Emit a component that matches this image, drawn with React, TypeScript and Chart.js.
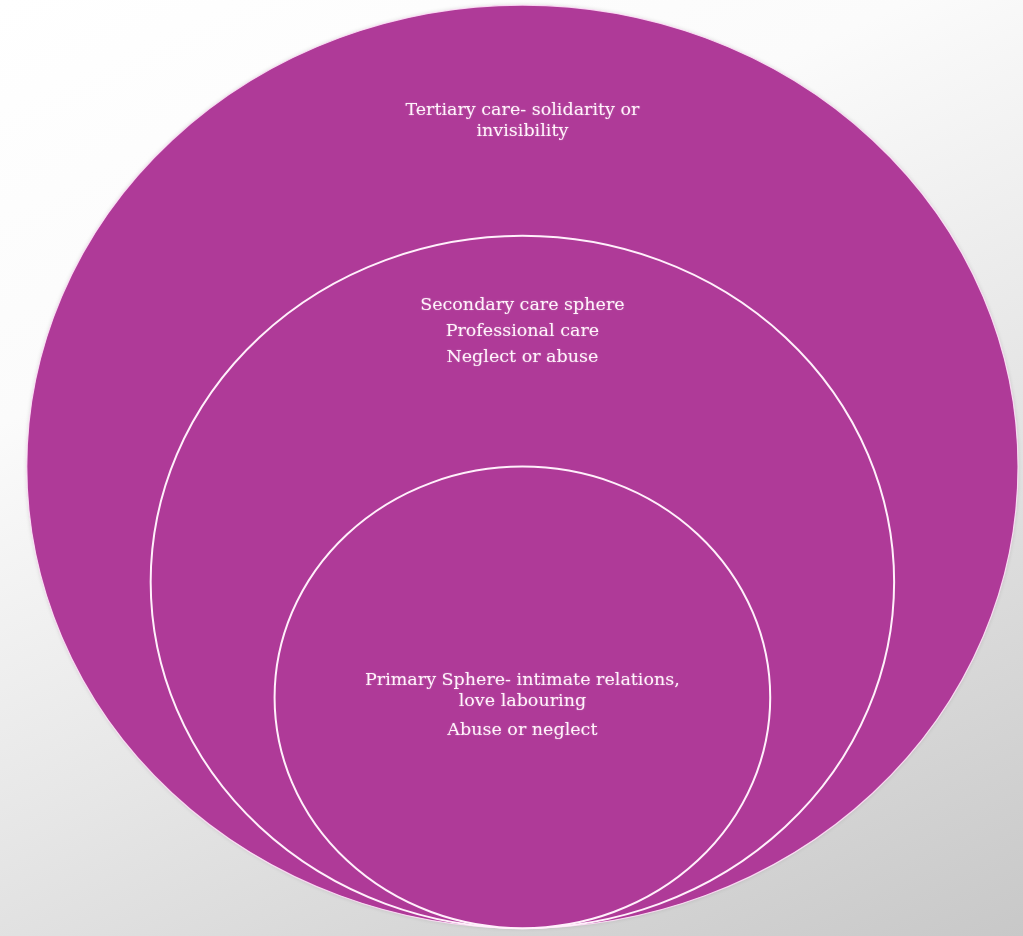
import React, { useEffect, useRef } from "react";
import { Chart, registerables } from "chart.js";

Chart.register(...registerables);

// Spheres of care, from outermost to innermost
const sphereNames = ["Tertiary", "Secondary", "Primary"];
// Relative radius of each sphere (outer = 100)
const sphereSizes = [100, 75, 50];
// Text written in each sphere
const sphereLabels = [
  ["Tertiary care- solidarity or", "invisibility"],
  ["Secondary care sphere", "Professional care", "Neglect or abuse"],
  ["Primary Sphere- intimate relations,", "love labouring", "Abuse or neglect"],
];
// Vertical value (same units as sizes) of the first text line of each sphere
const labelAnchors = [177.2, 135.0, 53.7];

// layout / style (not data)
const lineOffsets = [
  [0, 21],
  [0, 26, 52],
  [0, 21, 50],
];
const FILL = "#af3a98";

const ellipsePlugin = {
  id: "nestedEllipses",
  afterDatasetsDraw(chart: any) {
    const { ctx } = chart;
    const xs = chart.scales.x;
    const ys = chart.scales.y;
    const ds = chart.data.datasets[0];
    const pts = ds.data as { x: number; y: number; r: number }[];
    ctx.save();
    pts.forEach((p, i) => {
      const cx = xs.getPixelForValue(p.x);
      const cy = ys.getPixelForValue(p.y);
      const rx = xs.getPixelForValue(p.x + p.r) - cx;
      const ry = ys.getPixelForValue(p.y - p.r) - cy;
      ctx.beginPath();
      ctx.ellipse(cx, cy, rx, ry, 0, 0, Math.PI * 2);
      ctx.fillStyle = FILL;
      if (i === 0) {
        ctx.shadowColor = "rgba(0,0,0,0.15)";
        ctx.shadowBlur = 4;
      }
      ctx.fill();
      ctx.shadowColor = "transparent";
      ctx.shadowBlur = 0;
      ctx.lineWidth = i === 0 ? 1.2 : 2;
      ctx.strokeStyle = i === 0 ? "rgba(255,225,248,0.9)" : "#fff0fb";
      ctx.stroke();
    });
    // labels
    ctx.fillStyle = "#fff3fb";
    ctx.textAlign = "center";
    ctx.textBaseline = "middle";
    ctx.font = "17.5px 'DejaVu Serif', serif";
    ctx.shadowColor = "rgba(255,255,255,0.35)";
    ctx.shadowBlur = 2;
    sphereLabels.forEach((lines, i) => {
      const cx = xs.getPixelForValue(pts[i].x);
      const y0 = ys.getPixelForValue(labelAnchors[i]);
      lines.forEach((t, j) => {
        ctx.fillText(t, cx, y0 + lineOffsets[i][j]);
      });
    });
    ctx.restore();
  },
};

export default function App() {
  const ref = useRef<HTMLCanvasElement | null>(null);
  useEffect(() => {
    if (!ref.current) return;
    const chart = new Chart(ref.current, {
      type: "scatter",
      data: {
        labels: sphereNames,
        datasets: [
          {
            label: "Care spheres",
            data: sphereSizes.map((s) => ({ x: 0, y: s, r: s })),
            pointRadius: 0,
            pointHoverRadius: 0,
          },
        ],
      },
      options: {
        animation: false,
        responsive: false,
        events: [],
        layout: { padding: 0 },
        plugins: {
          legend: { display: false },
          tooltip: { enabled: false },
          title: { display: false },
        },
        scales: {
          x: { type: "linear", display: false, min: -105.4, max: 101.0 },
          y: { type: "linear", display: false, min: -1.7, max: 201.1 },
        },
      },
      plugins: [ellipsePlugin],
    });
    return () => chart.destroy();
  }, []);
  return (
    <div
      style={{
        position: "fixed",
        left: 0,
        top: 0,
        width: 1023,
        height: 936,
        background:
          "linear-gradient(155deg, #ffffff 0%, #fbfbfb 30%, #e6e6e6 60%, #c8c8c8 100%)",
      }}
    >
      <canvas ref={ref} width={1023} height={936} style={{ display: "block" }} />
    </div>
  );
}
